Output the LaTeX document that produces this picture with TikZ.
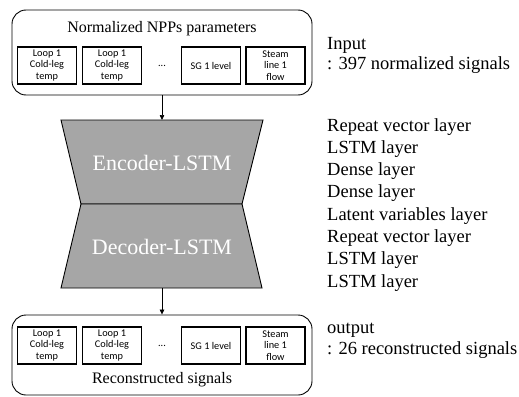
\documentclass[tikz,border=0pt]{standalone}
\usepackage{fontspec}
\setmainfont{Liberation Serif}
\newfontfamily\sigfont{Carlito}
\usetikzlibrary{arrows.meta}
\begin{document}
\begin{tikzpicture}[x=1pt,y=-1pt,
  outer/.style={draw,rounded corners=14pt,line width=0.9pt,minimum width=300pt,inner sep=0pt},
  sig/.style={draw,line width=1.1pt,minimum width=59pt,minimum height=37pt,inner sep=0pt,align=center,font=\sigfont\fontsize{10.3}{11.7}\selectfont},
  dots/.style={font=\sigfont\fontsize{10.3}{11.7}\selectfont},
  title/.style={font=\fontsize{16}{19}\selectfont,inner sep=0pt},
  trap/.style={draw,fill=black!35,line width=0.9pt,line join=miter},
  big/.style={text=white,font=\fontsize{22}{26}\selectfont,inner sep=0pt},
  note/.style={anchor=base west,inner sep=0pt,font=\fontsize{18.5}{21}\selectfont},
  arr/.style={-{Triangle[length=5pt,width=4.5pt]},line width=0.7pt}
]
\useasboundingbox (0,0) rectangle (519,396);
% top box
\node[outer,minimum height=85pt] (top) at (162,52.5) {};
\node[title] (ttl) at (162,29) {Normalized NPPs parameters};
\node[sig] (a1) at (47,65.5) {Loop 1\\Cold-leg\\temp};
\node[sig] (a2) at (112,65.5) {Loop 1\\Cold-leg\\temp};
\node[dots] (a3) at (162,65.5) {...};
\node[sig] (a4) at (211,65.5) {SG 1 level};
\node[sig] (a5) at (275.5,65.5) {Steam\\line 1\\flow};
% encoder / decoder
\coordinate (etop) at (162,120);
\coordinate (dbot) at (162,288);
\draw[trap] (61,120) -- (263,120) -- (242,204) -- (81,204) -- cycle;
\draw[trap] (81,204) -- (242,204) -- (262,288) -- (61,288) -- cycle;
\node[big] (enc) at (162,163) {Encoder-LSTM};
\node[big] (dec) at (162,247) {Decoder-LSTM};
% bottom box
\node[outer,minimum height=80pt] (bot) at (162,355) {};
\node[sig] (b1) at (47,345.5) {Loop 1\\Cold-leg\\temp};
\node[sig] (b2) at (112,345.5) {Loop 1\\Cold-leg\\temp};
\node[dots] (b3) at (162,345.5) {...};
\node[sig] (b4) at (211,345.5) {SG 1 level};
\node[sig] (b5) at (275.5,345.5) {Steam\\line 1\\flow};
\node[title] (rec) at (162,380) {Reconstructed signals};
% arrows
\draw[arr] (top.south) -- (etop);
\draw[arr] (dbot) -- (bot.north);
% notes
\node[note] (n1) at (327,49) {Input};
\node[note] (n2) at (327,70) {: 397 normalized signals};
\foreach \t [count=\i from 0] in {Repeat vector layer,LSTM layer,Dense layer,Dense layer,Latent variables layer,Repeat vector layer,LSTM layer,LSTM layer}
  \node[note] (l\i) at (327,131+22.3*\i) {\t};
\node[note] (o1) at (327,333) {output};
\node[note] (o2) at (327,354) {: 26 reconstructed signals};
\end{tikzpicture}
\end{document}
